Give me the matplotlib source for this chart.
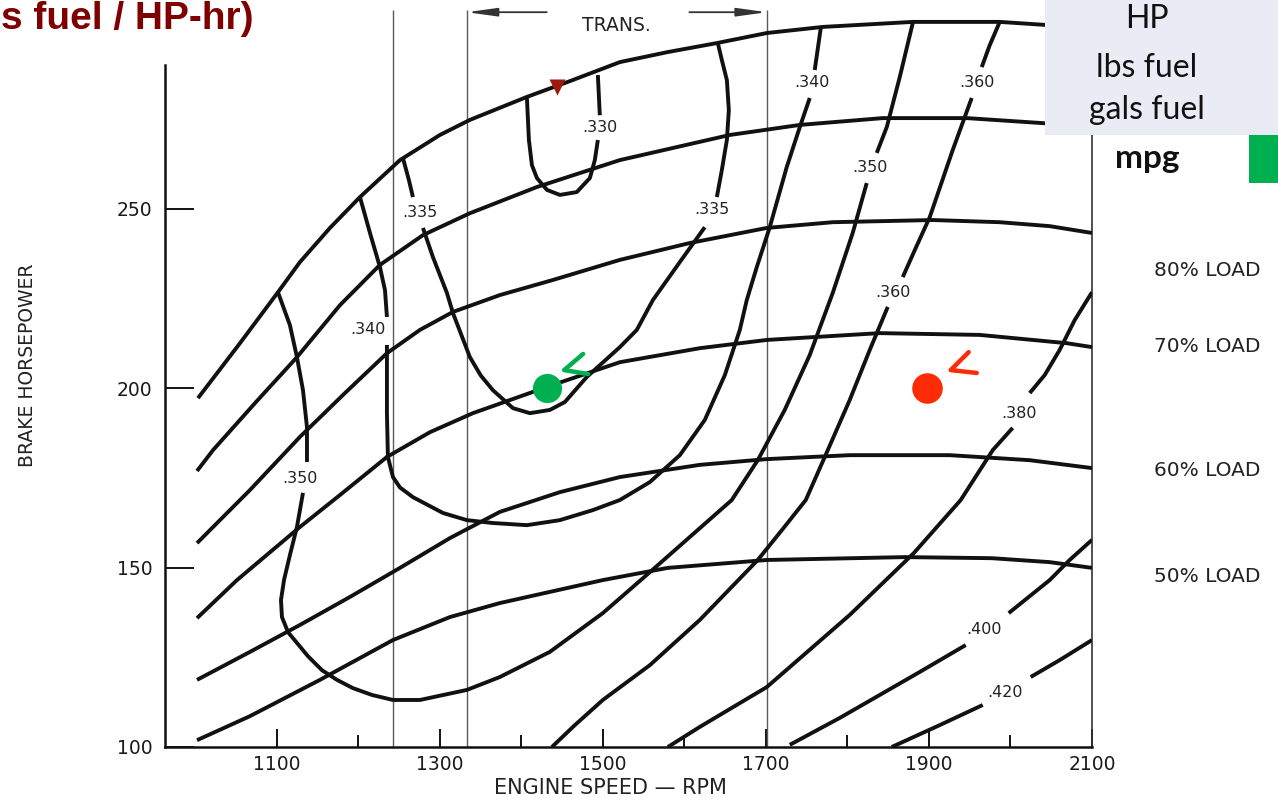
import matplotlib
matplotlib.use("Agg")
import matplotlib.pyplot as plt
from matplotlib.patches import Rectangle

# ---------------- data (engine speed in RPM, brake horsepower) ----------------
xticks_major = [1100, 1300, 1500, 1700, 1900, 2100]
xticks_minor = [1200, 1400, 1600, 1800, 2000]
yticks = [100, 150, 200, 250]

# load curves
load_max = [(1003.1, 197.2), (1054.6, 212.5), (1101.2, 226.7), (1128.2, 235.1), (1165.0, 244.6),
            (1201.8, 253.2), (1250.9, 263.5), (1299.9, 270.5), (1336.7, 274.7), (1406.6, 281.1),
            (1459.4, 285.5), (1520.7, 290.8), (1579.6, 293.6), (1639.7, 296.1), (1701.0, 298.9),
            (1769.7, 300.6), (1880.1, 302.0), (1986.8, 302.0), (2100.0, 300.3)]
load_90 = [(1001.9, 176.9), (1021.5, 182.7), (1073.0, 195.8), (1124.5, 208.6), (1177.3, 223.1),
           (1226.3, 234.3), (1279.1, 242.6), (1336.7, 248.7), (1418.9, 256.0), (1520.7, 263.5),
           (1655.6, 270.5), (1741.5, 273.3), (1843.3, 275.2), (1946.3, 275.2), (2039.5, 273.8),
           (2100.0, 272.7)]
load_80 = [(1001.9, 156.8), (1066.9, 171.6), (1128.2, 186.4), (1183.4, 198.6), (1234.9, 209.7),
           (1275.4, 216.2), (1315.9, 221.2), (1373.5, 225.9), (1438.5, 230.1), (1520.7, 235.7),
           (1606.5, 240.4), (1701.0, 244.6), (1781.9, 246.2), (1904.6, 246.8), (1986.8, 246.2),
           (2048.1, 245.1), (2100.0, 243.2)]
load_70 = [(1001.9, 135.9), (1050.9, 146.5), (1128.2, 161.3), (1177.3, 170.2), (1234.9, 180.8),
           (1287.7, 187.7), (1340.4, 193.0), (1431.2, 200.3), (1520.7, 207.2), (1618.8, 211.1),
           (1701.0, 213.4), (1839.6, 215.3), (1962.2, 214.8), (2068.9, 212.5), (2100.0, 211.4)]
load_60 = [(1001.9, 118.7), (1066.9, 126.5), (1128.2, 134.0), (1189.5, 141.8), (1250.9, 149.9),
           (1312.2, 158.2), (1373.5, 165.5), (1447.1, 171.0), (1520.7, 175.2), (1618.8, 178.6),
           (1701.0, 180.2), (1802.8, 181.3), (1925.4, 181.3), (2023.6, 179.9), (2100.0, 177.7)]
load_50 = [(1001.9, 101.9), (1066.9, 108.6), (1152.7, 118.7), (1242.3, 129.8), (1312.2, 136.2),
           (1373.5, 140.1), (1499.8, 146.5), (1579.6, 149.9), (1701.0, 152.1), (1870.2, 152.9),
           (1976.9, 152.6), (2048.1, 151.5), (2100.0, 149.9)]
load_names = ["80% LOAD", "70% LOAD", "60% LOAD", "50% LOAD"]

# BSFC contours (lbs fuel / HP-hr), each a list of segments broken at the labels
bsfc_330 = [[(1406.6, 281.1), (1409.1, 269.1), (1412.8, 262.1), (1418.9, 258.5), (1431.2, 255.2),
             (1447.1, 253.8), (1467.9, 254.6), (1483.9, 258.5), (1490.0, 263.5), (1493.7, 269.1)],
            [(1496.1, 276.0), (1493.7, 287.2)]]
bsfc_335 = [[(1254.5, 264.1), (1261.9, 257.9), (1266.8, 253.2)],
            [(1279.1, 244.6), (1291.3, 236.5), (1308.5, 226.5), (1315.9, 220.9), (1336.7, 208.6),
             (1350.0, 203.5), (1364.9, 199.4), (1389.5, 194.4), (1410.3, 193.0), (1434.8, 193.9),
             (1453.2, 196.1), (1480.2, 203.1), (1520.7, 211.4), (1541.5, 216.2), (1561.2, 224.5),
             (1594.3, 235.1), (1624.9, 244.8)],
            [(1639.7, 253.2), (1645.8, 260.7), (1652.0, 269.1), (1654.4, 277.4), (1652.0, 285.8),
             (1645.8, 291.4), (1640.9, 296.1)]]
bsfc_340 = [[(1201.8, 253.2), (1214.1, 243.2), (1226.3, 233.7), (1232.5, 227.3), (1234.9, 219.8)],
            [(1234.9, 212.0), (1234.9, 207.0), (1234.9, 193.0), (1236.1, 180.8), (1242.3, 175.2),
             (1250.9, 172.3), (1266.8, 169.6), (1303.6, 165.2), (1333.0, 163.2), (1364.9, 162.4),
             (1406.6, 161.8), (1447.1, 163.2), (1487.6, 166.0), (1520.7, 168.8), (1557.5, 173.8),
             (1594.3, 181.3), (1624.9, 191.1), (1649.5, 203.6), (1667.9, 216.2), (1676.4, 224.5),
             (1688.7, 233.7), (1704.6, 244.8), (1725.5, 261.6), (1741.5, 272.7), (1753.7, 280.8)],
            [(1759.8, 288.6), (1767.2, 300.3)]]
bsfc_350 = [[(1101.2, 226.7), (1115.9, 217.5), (1124.5, 208.6), (1131.9, 199.4), (1136.8, 189.1),
             (1136.8, 179.4)],
            [(1131.9, 170.8), (1124.5, 161.3), (1115.9, 153.5), (1108.6, 146.5), (1104.9, 140.9),
             (1106.1, 136.2), (1113.5, 132.0), (1124.5, 129.0), (1138.0, 125.3), (1155.2, 121.4),
             (1173.6, 118.7), (1193.2, 116.4), (1216.5, 114.5), (1242.3, 113.1), (1275.4, 113.1),
             (1333.0, 115.9), (1373.5, 119.5), (1434.8, 126.5), (1499.8, 137.3), (1557.5, 148.7),
             (1606.5, 158.5), (1658.0, 168.8), (1689.9, 179.9), (1723.0, 193.9), (1753.7, 209.2),
             (1781.9, 226.5), (1806.4, 243.2), (1823.6, 257.1)],
            [(1835.9, 265.5), (1848.2, 272.7), (1864.1, 286.6), (1880.1, 301.7)]]
bsfc_360 = [[(1986.8, 302.0), (1974.5, 295.5), (1964.7, 289.4)],
            [(1952.4, 280.8), (1929.1, 266.3), (1900.9, 247.6), (1882.5, 238.4), (1867.8, 230.9)],
            [(1849.4, 222.6), (1827.3, 210.6), (1802.8, 196.7), (1775.8, 182.7), (1748.8, 168.8),
             (1719.4, 160.4), (1689.9, 152.1), (1618.8, 135.4), (1557.5, 122.8), (1499.8, 113.1),
             (1465.5, 106.1), (1437.3, 100.0)]]
bsfc_380 = [[(2100.0, 226.7), (2078.7, 218.9), (2060.3, 210.6), (2041.9, 203.6), (2023.6, 198.6)],
            [(2002.7, 188.9), (1978.2, 182.7), (1938.9, 168.8), (1881.3, 154.0), (1802.8, 136.8),
             (1701.0, 116.7), (1618.8, 105.6), (1579.6, 100.0)]]
bsfc_400 = [[(2100.0, 157.7), (2072.6, 152.1), (2048.1, 146.5), (1997.8, 137.3)],
            [(1945.1, 128.4), (1888.6, 120.9), (1839.6, 114.5), (1790.5, 108.1), (1729.2, 100.6)]]
bsfc_420 = [[(2100.0, 129.8), (2060.3, 124.2), (2024.8, 119.5)],
            [(1965.9, 111.7), (1913.2, 106.1), (1854.3, 100.0)]]

bsfc_labels = [(".330", 1496.0, 272.7), (".335", 1275.4, 249.0), (".335", 1633.5, 249.6),
               (".340", 1211.6, 216.2), (".340", 1756.0, 285.0), (".350", 1128.0, 174.9),
               (".350", 1827.0, 261.3), (".360", 1958.6, 285.0), (".360", 1855.5, 226.7),
               (".380", 2011.0, 193.0), (".400", 1968.0, 132.6), (".420", 1993.0, 115.3)]

# transmission shift lines and the TRANS. range
shift_rpm = [1242.3, 1333.0, 1701.0]
trans_range = (1333.0, 1701.0)

# operating points
green_point = (1431.0, 200.0)
red_point = (1897.0, 200.0)
green_check = [(1475.6, 209.5), (1452.3, 205.0), (1481.7, 203.9)]
red_check = [(1948.7, 210.0), (1926.6, 205.0), (1958.6, 204.2)]
marker_tri = (1443.4, 283.8)

legend_lines = ["HP", "lbs fuel", "gals fuel"]

# ---------------- figure ----------------
W, H = 1278, 801
fig = plt.figure(figsize=(W / 100, H / 100), dpi=100)
ax = fig.add_axes([165 / W, 54 / H, 927 / W, 747 / H])
ax.set_xlim(962.6, 2100)
ax.set_ylim(100, 308.1)

ink = "#111111"
ax.spines["top"].set_visible(False)
ax.spines["left"].set_bounds(100, 290)
ax.spines["right"].set_bounds(100, 300)
for s in ["left", "bottom"]:
    ax.spines[s].set_linewidth(1.8)
    ax.spines[s].set_color(ink)
ax.spines["right"].set_linewidth(1.2)
ax.spines["right"].set_color("#333333")

ax.set_xticks(xticks_major)
ax.set_xticks(xticks_minor, minor=True)
ax.set_yticks(yticks)
ax.set_xticklabels([str(v) for v in xticks_major])
ax.set_yticklabels([str(v) for v in yticks])
ax.tick_params(axis="x", which="major", direction="in", length=13, width=1.4, color=ink,
               labelsize=13.5, pad=6, labelcolor="#1a1a1a")
ax.tick_params(axis="x", which="minor", direction="in", length=8.5, width=1.4, color=ink)
ax.tick_params(axis="y", which="major", direction="in", length=21, width=1.4, color=ink,
               labelsize=13.5, pad=9, labelcolor="#1a1a1a")
ax.tick_params(right=False, top=False)
for lab in ax.get_xticklabels() + ax.get_yticklabels():
    lab.set_family("DejaVu Sans")

# shift lines
ax.vlines(shift_rpm, 100, 305.3, colors="#5a5a5a", lw=1.0, zorder=2)

lw = 2.8
def draw(seg, z=3):
    r = [p[0] for p in seg]
    h = [p[1] for p in seg]
    ax.plot(r, h, color=ink, lw=lw, solid_joinstyle="round", solid_capstyle="butt", zorder=z)

for curve in [load_max, load_90, load_80, load_70, load_60, load_50]:
    draw(curve)
for contour in [bsfc_330, bsfc_335, bsfc_340, bsfc_350, bsfc_360, bsfc_380, bsfc_400, bsfc_420]:
    for seg in contour:
        draw(seg)

for txt, r, h in bsfc_labels:
    ax.text(r, h, txt, ha="center", va="center", fontsize=11.5, color="#222222", zorder=4)

# TRANS. range arrows
ax.text(sum(trans_range) / 2, 301.1, "TRANS.", ha="center", va="center", fontsize=13.5,
        color="#222222")
arrow_y = 304.7
ax.annotate("", xy=(trans_range[0], arrow_y), xytext=(1431, arrow_y),
            arrowprops=dict(arrowstyle="-|>,head_length=1.8,head_width=0.25", color="#333333",
                            lw=1.3, shrinkA=0, shrinkB=0))
ax.annotate("", xy=(trans_range[1], arrow_y), xytext=(1606, arrow_y),
            arrowprops=dict(arrowstyle="-|>,head_length=1.8,head_width=0.25", color="#333333",
                            lw=1.3, shrinkA=0, shrinkB=0))

# operating points
ax.plot(*green_point, marker="o", ms=21, color="#00B050", mec="none", zorder=6)
ax.plot(*red_point, marker="o", ms=22, color="#FF2B06", mec="none", zorder=6)
ax.plot([p[0] for p in green_check], [p[1] for p in green_check], color="#00B050", lw=3.2,
        solid_capstyle="round", solid_joinstyle="round", zorder=6)
ax.plot([p[0] for p in red_check], [p[1] for p in red_check], color="#FF2B06", lw=3.2,
        solid_capstyle="round", solid_joinstyle="round", zorder=6)
ax.plot(*marker_tri, marker="v", ms=11, color="#9C1A0C", mec="none", zorder=6)

# axis titles
fig.text(28 / W, 1 - 365 / H, "BRAKE HORSEPOWER", rotation=90, ha="center", va="center",
         fontsize=13.5, color="#222222")
fig.text(610 / W, 1 - 788 / H, "ENGINE SPEED — RPM", ha="center", va="center",
         fontsize=15, color="#222222")

# load labels
for name, yp in zip(load_names, [270, 347, 470, 577]):
    fig.text(1207 / W, 1 - yp / H, name, ha="center", va="center", fontsize=14.5,
             color="#222222")

# title fragment as visible at the left edge
fig.text(1 / W, 1 - 29 / H, "s fuel / HP-hr)", ha="left", va="baseline",
         fontsize=28, fontweight="bold", color="#7F0000", family="Liberation Sans")

# legend box
fig.add_artist(Rectangle((1045 / W, 1 - 135 / H), 233 / W, 135 / H, transform=fig.transFigure,
                         facecolor="#E9ECF5", edgecolor="none", zorder=5))
for txt, base in zip(legend_lines, [28, 77, 119]):
    fig.text(1147 / W, 1 - base / H, txt, ha="center", va="baseline", fontsize=23,
             family="Lato", color="#111111", zorder=6)
fig.text(1147 / W, 1 - 168 / H, "mpg", ha="center", va="baseline", fontsize=24,
         family="Lato", fontweight="bold", color="#111111", zorder=6)
fig.add_artist(Rectangle((1249 / W, 1 - 183 / H), 29 / W, 48 / H, transform=fig.transFigure,
                         facecolor="#00B050", edgecolor="none", zorder=5))

fig.savefig("out.png", dpi=100)
